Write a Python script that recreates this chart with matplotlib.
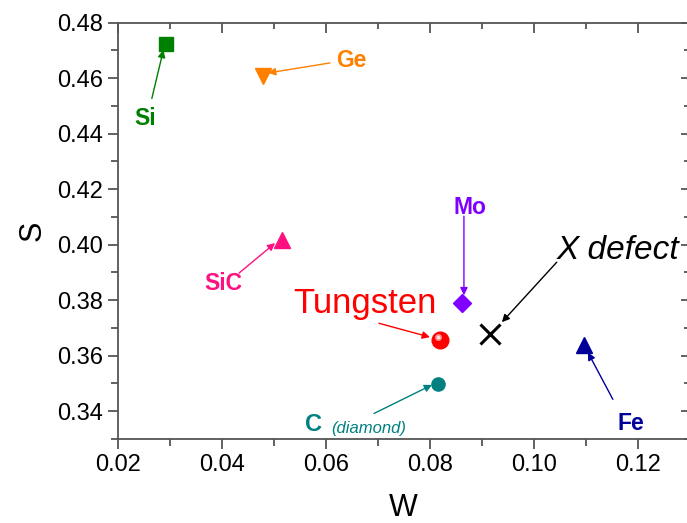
import matplotlib
matplotlib.use("Agg")
import matplotlib.pyplot as plt
import matplotlib.transforms as mtransforms
from matplotlib.ticker import MultipleLocator, FormatStrFormatter

plt.rcParams['font.family'] = ['Liberation Sans', 'DejaVu Sans']

# materials: (W, S)
names = ["Si", "Ge", "SiC", "Mo", "Tungsten", "C", "X defect", "Fe"]
w_vals = [0.0292, 0.0478, 0.0515, 0.0861, 0.0819, 0.0816, 0.0915, 0.1096]
s_vals = [0.4722, 0.4608, 0.4016, 0.3790, 0.3658, 0.3497, 0.3677, 0.3638]
colors = ["#008000", "#ff8000", "#ff1080", "#8000ff", "#ff0000", "#008080", "#000000", "#000099"]
markers = ["s", "v", "^", "D", "o", "o", "x", "^"]
msizes = [10, 12, 12, 9, 12, 9.5, 14, 12]

# label positions and arrow (tail -> head) in data units
label_xy = [(0.0252, 0.4456), (0.0648, 0.4662), (0.0402, 0.3861), (0.0877, 0.4135),
            (0.0674, 0.3787), (0.0576, 0.3353), (0.1162, 0.3980), (0.1187, 0.3356)]
arrow_tail = [(0.02648, 0.4527), (0.06077, 0.4655), (0.04327, 0.3898), (0.08654, 0.4103),
              (0.07019, 0.3717), (0.06923, 0.3392), (0.1044, 0.3937), (0.1152, 0.3443)]
arrow_head = [(0.02871, 0.4702), (0.04885, 0.4619), (0.0502, 0.4006), (0.08654, 0.3818),
              (0.0800, 0.3667), (0.0804, 0.3495), (0.09385, 0.3721), (0.1104, 0.3612)]

fig = plt.figure(figsize=(6.87, 5.23), dpi=100)
ax = fig.add_axes([0.172, 0.1606, 0.829, 0.796])

for i in range(len(names)):
    if markers[i] == "x":
        ax.plot(w_vals[i], s_vals[i], marker="x", ms=msizes[i], mew=2.2,
                color=colors[i], ls="none", zorder=4)
    else:
        ax.plot(w_vals[i], s_vals[i], marker=markers[i], ms=msizes[i],
                color=colors[i], mec=colors[i], ls="none", zorder=4)

# shiny highlight on tungsten sphere
ti = names.index("Tungsten")
shift = mtransforms.offset_copy(ax.transData, fig=fig, x=-1.5, y=2.0, units="points")
ax.plot(w_vals[ti], s_vals[ti], "o", ms=5, color="#ff9090", mec="none", transform=shift, zorder=5)
ax.plot(w_vals[ti], s_vals[ti], "o", ms=2.5, color="#ffe0e0", mec="none", transform=shift, zorder=6)

for i in range(len(names)):
    ax.annotate("", xy=arrow_head[i], xytext=arrow_tail[i],
                arrowprops=dict(arrowstyle="-|>", color=colors[i], lw=1.0,
                                mutation_scale=11, shrinkA=0, shrinkB=0), zorder=3)

for i, nm in enumerate(names):
    x, y = label_xy[i]
    if nm == "Tungsten":
        ax.text(x, y, nm, color=colors[i], fontsize=25, ha="center", va="center")
    elif nm == "X defect":
        ax.text(x, y, nm, color=colors[i], fontsize=24, style="italic", ha="center", va="center")
    elif nm == "C":
        ax.text(x, y, "C", color=colors[i], fontsize=17, weight="bold", ha="center", va="center")
        ax.text(0.06817, 0.3338, "(diamond)", color=colors[i], fontsize=12,
                style="italic", ha="center", va="center")
    else:
        ax.text(x, y, nm, color=colors[i], fontsize=16.5, weight="bold", ha="center", va="center")

ax.set_xlim(0.02, 0.1296)
ax.set_ylim(0.33, 0.48)
ax.xaxis.set_major_locator(MultipleLocator(0.02))
ax.xaxis.set_minor_locator(MultipleLocator(0.01))
ax.yaxis.set_major_locator(MultipleLocator(0.02))
ax.yaxis.set_minor_locator(MultipleLocator(0.01))
ax.xaxis.set_major_formatter(FormatStrFormatter("%.2f"))
ax.yaxis.set_major_formatter(FormatStrFormatter("%.2f"))

for sp in ax.spines.values():
    sp.set_color("#555555")
    sp.set_linewidth(1.3)
ax.spines["right"].set_visible(False)

ax.tick_params(which="both", direction="out", colors="#555555", labelcolor="black",
               labelsize=17, top=False, right=False)
ax.tick_params(which="major", length=7, width=1.3, pad=4)
ax.tick_params(which="minor", length=5, width=1.3)

# inward ticks on top and right
ax2 = ax.secondary_xaxis("top")
ax2.xaxis.set_major_locator(MultipleLocator(0.02))
ax2.xaxis.set_minor_locator(MultipleLocator(0.01))
ax2.tick_params(which="both", direction="in", colors="#555555", labeltop=False)
ax2.tick_params(which="major", length=7, width=1.3)
ax2.tick_params(which="minor", length=4, width=1.3)
ax2.spines["top"].set_visible(False)
ay2 = ax.secondary_yaxis("right")
ay2.yaxis.set_major_locator(MultipleLocator(0.02))
ay2.yaxis.set_minor_locator(MultipleLocator(0.01))
ay2.tick_params(which="both", direction="in", colors="#555555", labelright=False)
ay2.tick_params(which="major", length=5, width=1.3)
ay2.tick_params(which="minor", length=3, width=1.3)
ay2.spines["right"].set_visible(False)

ax.set_xlabel("W", fontsize=22, labelpad=12)
ax.set_ylabel("S", fontsize=22, labelpad=7)

fig.savefig("out.png", dpi=100)
